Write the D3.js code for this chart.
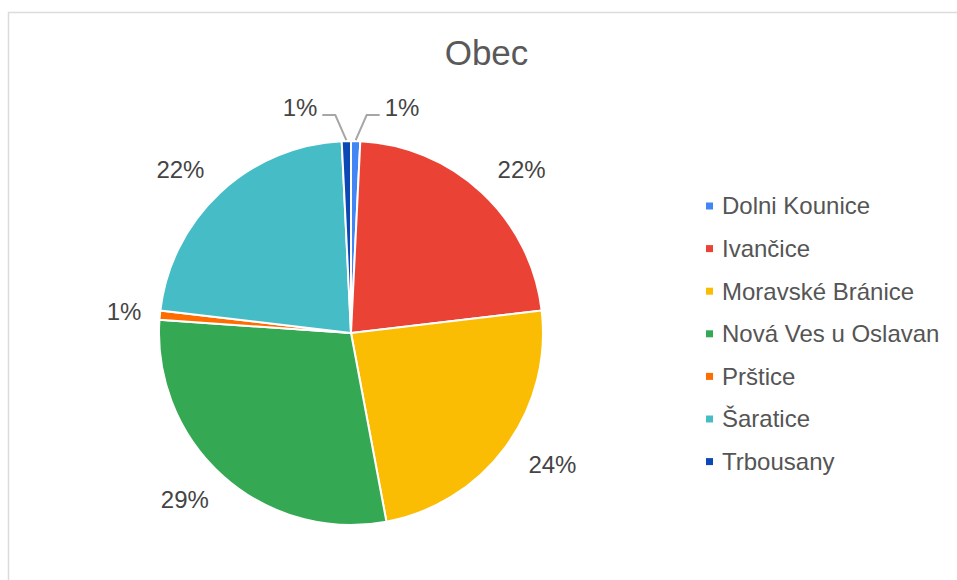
<!DOCTYPE html>
<html>
<head>
<meta charset="utf-8">
<script src="https://cdn.jsdelivr.net/npm/d3@7"></script>
<style>
  body { margin: 0; background: #fff; }
  text { font-family: "Liberation Sans", Arial, sans-serif; }
</style>
</head>
<body>
<div id="chart"></div>
<script>
// data
const categories = ["Dolni Kounice", "Ivančice", "Moravské Bránice", "Nová Ves u Oslavan", "Prštice", "Šaratice", "Trbousany"];
const values = [3, 87, 93, 113, 3, 87, 3];
const colors = ["#4285f4", "#ea4335", "#fbbc04", "#34a853", "#ff6d01", "#46bdc6", "#0b47b5"];
const title = "Obec";

const width = 957;
const height = 580;
const cx = 351, cy = 333, radius = 192;

const svg = d3.select("#chart").append("svg")
    .attr("width", width)
    .attr("height", height);

// frame (runs off the right and bottom of the picture)
svg.append("rect")
    .attr("x", 8.5)
    .attr("y", 12.5)
    .attr("width", 980)
    .attr("height", 600)
    .attr("fill", "#fff")
    .attr("stroke", "#dcdcdc")
    .attr("stroke-width", 1.5);

svg.append("text")
    .attr("x", 486.5)
    .attr("y", 65)
    .attr("text-anchor", "middle")
    .attr("font-size", 35)
    .attr("fill", "#595959")
    .text(title);

const total = d3.sum(values);
const fmt = d3.format(".0%");

const pie = d3.pie().sort(null).value(d => d);
const arcs = pie(values);

const arc = d3.arc().innerRadius(0).outerRadius(radius);

const g = svg.append("g")
    .attr("transform", "translate(" + cx + "," + cy + ")");

g.selectAll("path")
    .data(arcs)
    .enter().append("path")
    .attr("d", arc)
    .attr("fill", (d, i) => colors[i])
    .attr("stroke", "#fff")
    .attr("stroke-width", 2);

// labels
arcs.forEach(function(d, i) {
  const mid = (d.startAngle + d.endAngle) / 2;
  const s = Math.sin(mid), c = Math.cos(mid);
  const frac = d.value / total;
  const label = fmt(frac);

  if (frac < 0.02 && Math.abs(c) > 0.9) {
    // small slice at the top: leader line
    const side = s >= 0 ? 1 : -1;
    const p0 = [ (radius + 1) * s, -(radius + 1) * c ];
    const p1 = [ p0[0] + side * 11, p0[1] - 25 ];
    const p2 = [ p1[0] + side * 13, p1[1] ];
    g.append("polyline")
        .attr("points", [p0, p1, p2].map(p => p.join(",")).join(" "))
        .attr("fill", "none")
        .attr("stroke", "#a6a6a6")
        .attr("stroke-width", 2);
    g.append("text")
        .attr("x", p2[0] + side * 5)
        .attr("y", p2[1] + 1)
        .attr("text-anchor", side > 0 ? "start" : "end")
        .attr("font-size", 24)
        .attr("fill", "#444")
        .text(label);
  } else if (frac < 0.02) {
    g.append("text")
        .attr("x", 228 * s)
        .attr("y", -228 * c)
        .attr("dy", "0.35em")
        .attr("text-anchor", "middle")
        .attr("font-size", 24)
        .attr("fill", "#444")
        .text(label);
  } else {
    g.append("text")
        .attr("x", 250 * s)
        .attr("y", -223 * c)
        .attr("dy", "0.35em")
        .attr("text-anchor", "middle")
        .attr("font-size", 24)
        .attr("fill", "#444")
        .text(label);
  }
});

// legend
const legend = svg.append("g")
    .selectAll("g")
    .data(categories)
    .enter().append("g")
    .attr("transform", (d, i) => "translate(706," + (206 + i * 42.6) + ")");

legend.append("rect")
    .attr("x", 0)
    .attr("y", -3.5)
    .attr("width", 7)
    .attr("height", 7)
    .attr("fill", (d, i) => colors[i]);

legend.append("text")
    .attr("x", 16)
    .attr("dy", "0.35em")
    .attr("font-size", 24)
    .attr("fill", "#555")
    .text(d => d);
</script>
</body>
</html>
